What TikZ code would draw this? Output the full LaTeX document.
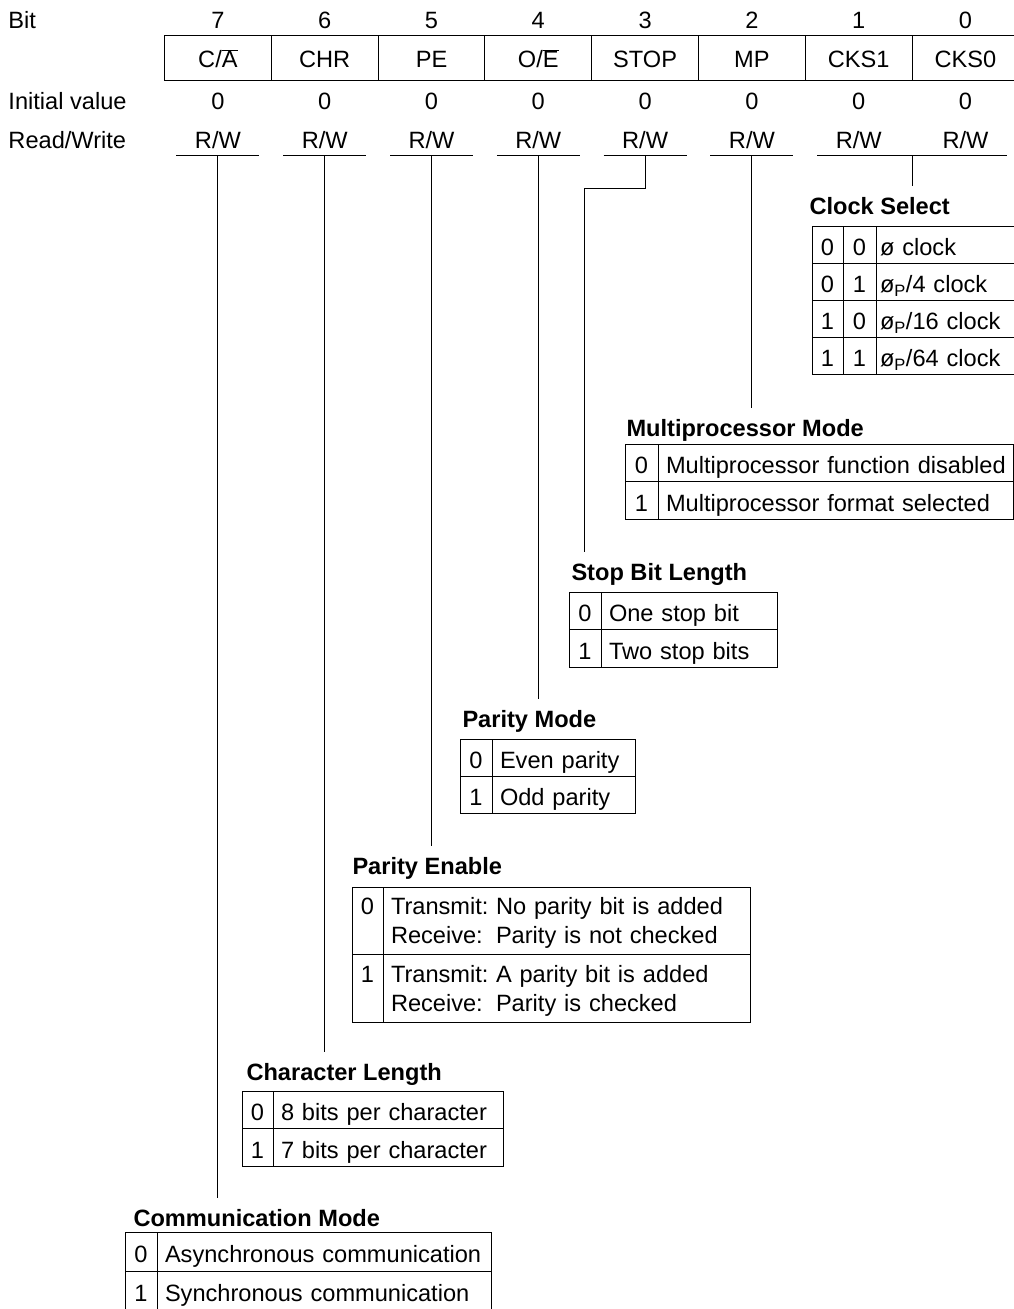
\documentclass[tikz,border=0pt]{standalone}
\usepackage{fontspec}
\setmainfont{Liberation Sans}
\usetikzlibrary{positioning}
\newcommand{\phip}{ø\textsubscript{P}}
\newcommand{\dirtag}[1]{\makebox[4.45em][l]{#1}}

\begin{document}
\begin{tikzpicture}[x=1pt, y=-1pt, line width=1pt,
		every node/.style={font=\fontsize{23.6}{29}\selectfont},
		regcell/.style={draw, minimum width=106.8pt, minimum height=45pt, inner sep=0pt, outer sep=0pt,
			anchor=north west, text height=20pt, text depth=0pt},
		rowtext/.style={anchor=base, inner sep=0pt},
		rowlabel/.style={anchor=base west, inner sep=0pt},
		heading/.style={anchor=base west, inner sep=0pt, text height=28pt,
			font=\fontsize{23.6}{29}\selectfont\bfseries},
		valcell/.style={draw, minimum width=#1, minimum height=\rowh, inner sep=0pt, outer sep=0pt,
			anchor=north west, text height=22pt, text depth=0pt},
		desccell/.style={draw, text width=#1, minimum height=\rowh, inner xsep=8pt, inner ysep=0pt,
			outer sep=0pt, anchor=north west, align=left, text height=22pt, text depth=0pt},
		twoline/.style={text height=20pt, text depth=32pt},
		wire/.style={draw, line width=1pt}
	]
	\useasboundingbox (0,0) rectangle (1014,1309);

	% register layout
	\node[rowlabel] (lbit) at (8,28) {Bit};
	\node[rowlabel] (linit) at (8,109) {Initial value};
	\node[rowlabel] (lrw) at (8,148) {Read/Write};
	\foreach \n/\t [count=\i from 0] in {7/{C/$\overline{\hbox{A}}$}, 6/CHR, 5/PE, 4/{O/$\overline{\hbox{E}}$},
			3/STOP, 2/MP, 1/CKS1, 0/CKS0}
	{
		\node[regcell] (reg\n) at (164.5+\i*106.8,35) {\t};
		\node[rowtext] (bit\n) at (217.9+\i*106.8,28) {\n};
		\node[rowtext] (init\n) at (217.9+\i*106.8,109) {0};
		\node[rowtext] (rw\n) at (217.9+\i*106.8,148) {R/W};
		\coordinate (u\n) at (217.9+\i*106.8,155);
	}
	\foreach \n in {7,6,5,4,3,2}
		\draw ([xshift=-41.5pt]u\n) -- ([xshift=41.5pt]u\n);
	\draw ([xshift=-41.5pt]u1) -- ([xshift=41.5pt]u0);
	\coordinate (uck) at (912.1,155);

	% clock select
	\def\rowh{37pt}
	\node[heading] (cks) at (809,214) {Clock Select};
	\foreach \a/\b/\t [count=\i from 0] in {0/0/{ø clock}, 0/1/{\phip/4 clock},
			1/0/{\phip/16 clock}, 1/1/{\phip/64 clock}}
	{
		\node[valcell=31pt] (ckA\i) at (812,226+\i*37) {\a};
		\node[valcell=33pt] (ckB\i) at (ckA\i.north east) {\b};
		\node[desccell=122pt, inner xsep=4pt, text width=130pt] (ckD\i) at (ckB\i.north east) {\mbox{\t}};
	}

	% multiprocessor mode
	\def\rowh{37.5pt}
	\node[heading] (mpm) at (626,436) {Multiprocessor Mode};
	\foreach \a/\t [count=\i from 0] in {0/Multiprocessor function disabled, 1/Multiprocessor format selected}
	{
		\node[valcell=33pt] (mpV\i) at (625,444+\i*37.5) {\a};
		\node[desccell=339pt] (mpD\i) at (mpV\i.north east) {\mbox{\t}};
	}

	% stop bit length
	\node[heading] (sbl) at (571,580) {Stop Bit Length};
	\foreach \a/\t [count=\i from 0] in {0/One stop bit, 1/Two stop bits}
	{
		\node[valcell=32pt] (sbV\i) at (569,592+\i*37.5) {\a};
		\node[desccell=160pt] (sbD\i) at (sbV\i.north east) {\mbox{\t}};
	}

	% parity mode
	\def\rowh{37pt}
	\node[heading] (pmd) at (462,727) {Parity Mode};
	\foreach \a/\t [count=\i from 0] in {0/Even parity, 1/Odd parity}
	{
		\node[valcell=32pt] (pmV\i) at (460,739+\i*37) {\a};
		\node[desccell=127pt] (pmD\i) at (pmV\i.north east) {\mbox{\t}};
	}

	% parity enable
	\def\rowh{67.5pt}
	\node[heading] (pen) at (352,874) {Parity Enable};
	\foreach \a/\t [count=\i from 0] in {
			0/{\dirtag{Transmit:}No parity bit is added\\\dirtag{Receive:}Parity is not checked},
			1/{\dirtag{Transmit:}A parity bit is added\\\dirtag{Receive:}Parity is checked}}
	{
		\node[valcell=31pt, twoline] (peV\i) at (352,887+\i*67.5) {\a};
		\node[desccell=351pt, twoline] (peD\i) at (peV\i.north east) {\t};
	}

	% character length
	\def\rowh{37.5pt}
	\node[heading] (chl) at (246,1080) {Character Length};
	\foreach \a/\t [count=\i from 0] in {0/8 bits per character, 1/7 bits per character}
	{
		\node[valcell=31pt] (clV\i) at (242,1091+\i*37.5) {\a};
		\node[desccell=214pt] (clD\i) at (clV\i.north east) {\mbox{\t}};
	}

	% communication mode
	\def\rowh{39pt}
	\node[heading] (cmm) at (133,1226) {Communication Mode};
	\foreach \a/\t [count=\i from 0] in {0/Asynchronous communication, 1/Synchronous communication}
	{
		\node[valcell=32pt] (cmV\i) at (125,1232+\i*39) {\a};
		\node[desccell=318pt] (cmD\i) at (cmV\i.north east) {\mbox{\t}};
	}

	% bit to field connectors
	\foreach \a/\b in {7/cmm, 6/chl, 5/pen, 4/pmd, 2/mpm}
		\draw[wire] (u\a) -- (u\a |- \b.north);
	\coordinate (sbk) at (584,188);
	\draw[wire] (u3) |- (sbk) -- (sbk |- sbl.north);
	\draw[wire] (uck) -- (uck |- cks.north);
\end{tikzpicture}
\end{document}
